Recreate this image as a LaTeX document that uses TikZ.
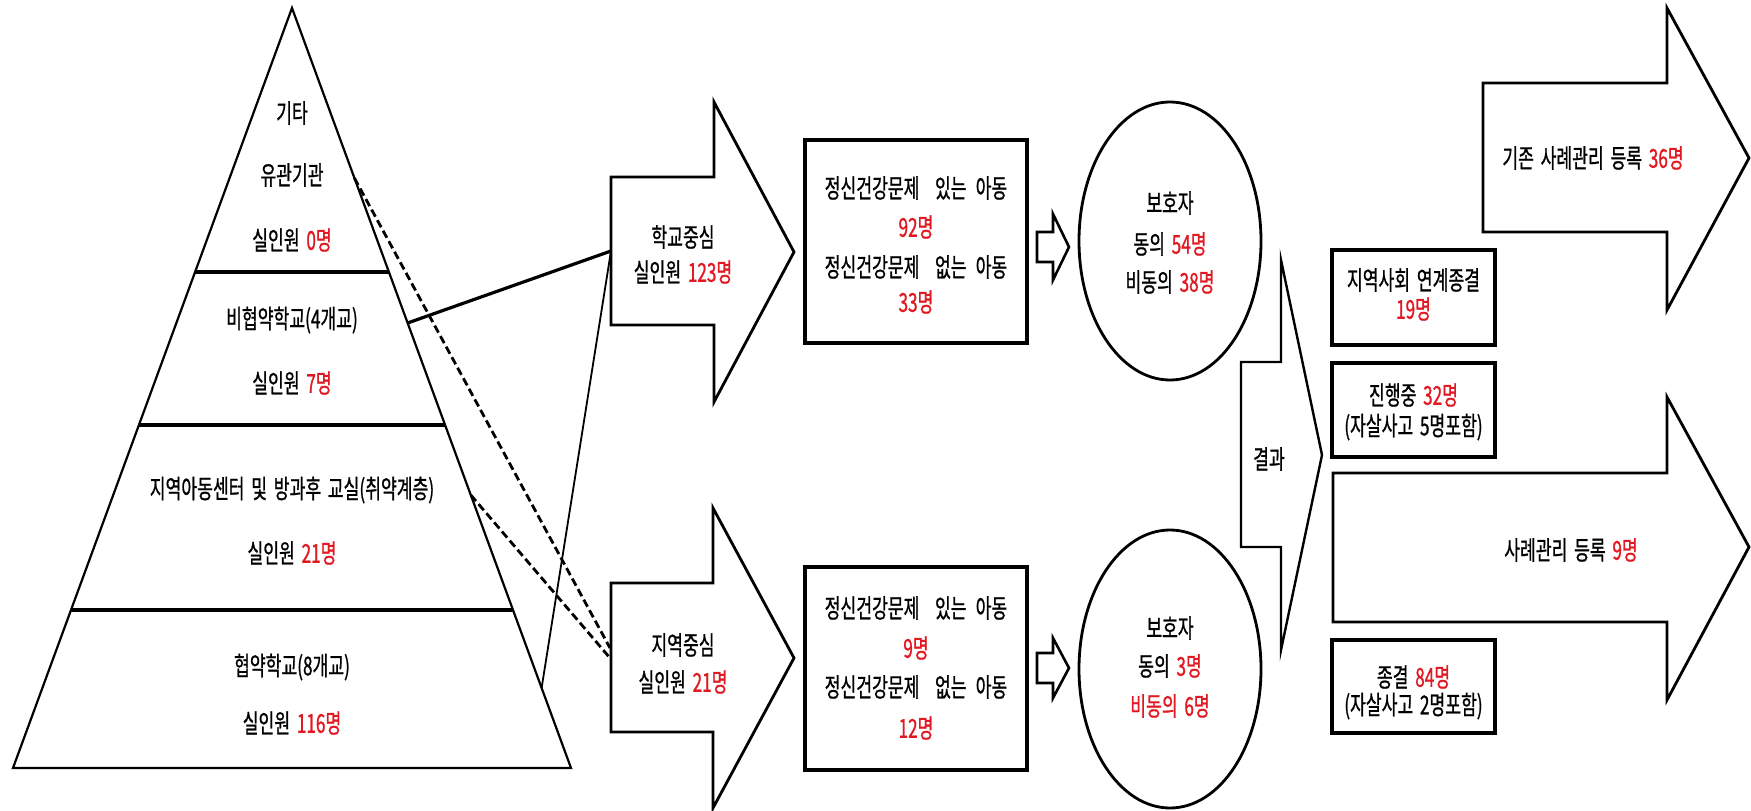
\documentclass[tikz,border=0pt]{standalone}
\usepackage{fontspec}
\setmainfont{Noto Sans CJK KR}[FakeStretch=0.66,WordSpace=1.75,FakeBold=0.8]
\usetikzlibrary{shapes.geometric}
\definecolor{numred}{RGB}{225,25,35}
\newcommand{\rd}[1]{\textcolor{numred}{#1}}
\begin{document}
\begin{tikzpicture}[x=1pt,y=-1pt,
  outl/.style={draw=black,line width=2.2pt,line join=miter},
  divider/.style={draw=black,line width=4pt},
  boxst/.style={draw=black,line width=3.6pt,fill=white,inner sep=0pt},
  ellst/.style={draw=black,line width=2.8pt,fill=white,ellipse,inner sep=0pt},
  arr/.style={draw=black,line width=2.8pt,fill=white,line join=miter},
  txt/.style={inner sep=0pt,font=\fontsize{26}{30}\selectfont},
  conn/.style={draw=black,line width=3.2pt},
  thinconn/.style={draw=black,line width=1.8pt},
  dconn/.style={draw=black,line width=2.8pt,dash pattern=on 8pt off 4pt}]
\useasboundingbox[fill=white] (0,0) rectangle (1751,811);

% pyramid
\coordinate (apex) at (292,8);
\coordinate (bl) at (13,768);
\coordinate (br) at (571,768);
\draw[outl] (apex) -- (br) -- (bl) -- cycle;
\draw[divider] (195.1,272) -- (388.9,272);
\draw[divider] (138.9,425) -- (445.1,425);
\draw[divider] (71,610) -- (513,610);

\node[txt] (t11) at (292,113) {기타};
\node[txt] (t12) at (292,175) {유관기관};
\node[txt] (t13) at (292,240) {실인원 \rd{0명}};
\node[txt] (t21) at (292,320) {비협약학교(4개교)};
\node[txt] (t22) at (292,383) {실인원 \rd{7명}};
\node[txt] (t31) at (292,490) {지역아동센터 및 방과후 교실(취약계층)};
\node[txt] (t32) at (292,553) {실인원 \rd{21명}};
\node[txt] (t41) at (292,667) {협약학교(8개교)};
\node[txt] (t42) at (292,723) {실인원 \rd{116명}};

% connector end points
\coordinate (p1) at (354.4,178);
\coordinate (p2) at (407.6,323);
\coordinate (p3) at (470.8,495);
\coordinate (p4) at (541.6,688);
\coordinate (sin) at (611,251);
\coordinate (rin1) at (610,648);
\coordinate (rin2) at (610,658);
\draw[conn] (p2) -- (sin);
\draw[thinconn] (p4) -- (sin);
\draw[dconn] (p1) -- (rin1);
\draw[dconn] (p3) -- (rin2);

% school / region arrows
\draw[arr] (611,177) -- (714,177) -- (714,102) -- (794,252) -- (714,402) -- (714,325) -- (611,325) -- cycle;
\draw[arr] (611,583) -- (713,583) -- (713,508) -- (794,658) -- (713,808) -- (713,732) -- (611,732) -- cycle;
\node[txt] (s1) at (683,237) {학교중심};
\node[txt] (s2) at (683,272) {실인원 \rd{123명}};
\node[txt] (r1) at (683,645) {지역중심};
\node[txt] (r2) at (683,682) {실인원 \rd{21명}};

% boxes
\node[boxst,minimum width=222pt,minimum height=203pt] (box1) at (916,241.5) {};
\node[boxst,minimum width=222pt,minimum height=203pt] (box2) at (916,668.5) {};
\node[txt] (b11) at (916,188) {정신건강문제\hspace{0.6em}있는\hspace{0.35em}아동};
\node[txt] (b12) at (916,227) {\rd{92명}};
\node[txt] (b13) at (916,267) {정신건강문제\hspace{0.6em}없는\hspace{0.35em}아동};
\node[txt] (b14) at (916,302) {\rd{33명}};
\node[txt] (b21) at (916,608) {정신건강문제\hspace{0.6em}있는\hspace{0.35em}아동};
\node[txt] (b22) at (916,648) {\rd{9명}};
\node[txt] (b23) at (916,687) {정신건강문제\hspace{0.6em}없는\hspace{0.35em}아동};
\node[txt] (b24) at (916,728) {\rd{12명}};

% small arrows
\draw[arr,line width=2.6pt] (1037,232) -- (1053,232) -- (1053,214) -- (1069,247) -- (1053,280) -- (1053,262) -- (1037,262) -- cycle;
\draw[arr,line width=2.6pt] (1037,653) -- (1053,653) -- (1053,638) -- (1069,668) -- (1053,698) -- (1053,683) -- (1037,683) -- cycle;

% guardian ellipses
\node[ellst,minimum width=182pt,minimum height=278pt] (c1) at (1170,241) {};
\node[ellst,minimum width=182pt,minimum height=278pt] (c2) at (1170,669) {};
\node[txt] (c11) at (1170,203) {보호자};
\node[txt] (c12) at (1170,244) {동의 \rd{54명}};
\node[txt] (c13) at (1170,282) {비동의 \rd{38명}};
\node[txt] (c21) at (1170,628) {보호자};
\node[txt] (c22) at (1170,666) {동의 \rd{3명}};
\node[txt] (c23) at (1170,706) {\rd{비동의 6명}};

% result arrow
\draw[arr,line width=2.4pt] (1241,362) -- (1281,362) -- (1281,260) -- (1322,455) -- (1281,650) -- (1281,547) -- (1241,547) -- cycle;
\node[txt] (res) at (1269,459) {결과};

% big arrows
\draw[arr] (1483,83) -- (1667,83) -- (1667,8) -- (1749,158) -- (1667,310) -- (1667,232) -- (1483,232) -- cycle;
\draw[arr] (1333,473) -- (1667,473) -- (1667,397) -- (1749,547) -- (1667,700) -- (1667,622) -- (1333,622) -- cycle;
\node[txt] (g1) at (1593,158) {기존 사례관리 등록 \rd{36명}};
\node[txt] (g2) at (1571,550) {사례관리 등록 \rd{9명}};

% outcome boxes
\node[boxst,minimum width=163pt,minimum height=95pt] (o1) at (1413.5,297.5) {};
\node[boxst,minimum width=163pt,minimum height=94pt] (o2) at (1413.5,410) {};
\node[boxst,minimum width=163pt,minimum height=93pt] (o3) at (1413.5,686.5) {};
\node[txt] (o11) at (1413.5,280) {지역사회 연계종결};
\node[txt] (o12) at (1413.5,309) {\rd{19명}};
\node[txt] (o21) at (1413.5,395) {진행중 \rd{32명}};
\node[txt] (o22) at (1413.5,427) {(자살사고 5명포함)};
\node[txt] (o31) at (1413.5,677) {종결 \rd{84명}};
\node[txt] (o32) at (1413.5,706) {(자살사고 2명포함)};
\end{tikzpicture}
\end{document}
